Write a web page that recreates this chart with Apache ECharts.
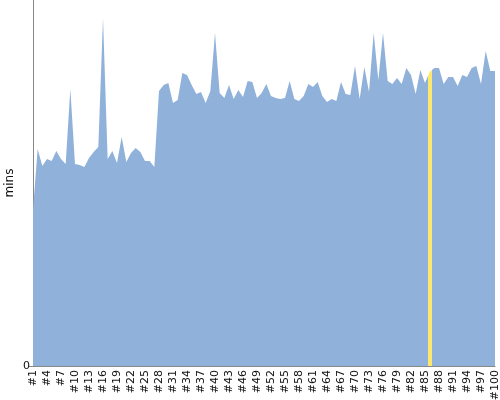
<!DOCTYPE html>
<html>
<head>
<meta charset="utf-8">
<script src="https://cdn.jsdelivr.net/npm/echarts@6/dist/echarts.min.js"></script>
<style>html,body{margin:0;padding:0;background:#fff}#c{width:500px;height:400px}</style>
</head>
<body>
<div id="c"></div>
<script>
var categories = ['#1','#2','#3','#4','#5','#6','#7','#8','#9','#10','#11','#12','#13','#14','#15','#16','#17','#18','#19','#20',
'#21','#22','#23','#24','#25','#26','#27','#28','#29','#30','#31','#32','#33','#34','#35','#36','#37','#38','#39','#40',
'#41','#42','#43','#44','#45','#46','#47','#48','#49','#50','#51','#52','#53','#54','#55','#56','#57','#58','#59','#60',
'#61','#62','#63','#64','#65','#66','#67','#68','#69','#70','#71','#72','#73','#74','#75','#76','#77','#78','#79','#80',
'#81','#82','#83','#84','#85','#86','#87','#88','#89','#90','#91','#92','#93','#94','#95','#96','#97','#98','#99','#100'];
var minutes = [15.6,21.7,20.0,20.7,20.5,21.5,20.7,20.2,27.7,20.2,
20.1,19.9,20.8,21.4,21.9,34.8,20.7,21.5,20.3,22.9,
20.4,21.3,21.8,21.4,20.5,20.5,19.9,27.5,28.1,28.3,
26.3,26.6,29.3,29.1,28.1,27.2,27.4,26.3,27.5,33.3,
27.3,26.8,28.1,26.7,27.6,26.9,28.5,28.4,26.8,27.3,
28.2,27.0,26.8,26.7,26.8,28.5,26.7,26.5,27.0,28.2,
27.9,28.4,27.0,26.4,26.7,26.5,28.4,27.2,27.1,30.0,
26.7,29.9,27.4,33.3,28.6,33.3,28.5,28.2,28.8,28.2,
29.8,29.1,27.2,29.6,28.3,29.4,29.8,29.8,28.2,28.9,
28.9,28.0,29.1,28.9,29.8,30.0,28.2,31.5,29.5,29.5];
var highlightRange = [84.55, 85.4];
var yMax = 36.6;

// x position = index of the category; labels come from categories
var seriesData = categories.map(function(c, i){ return [i, minutes[i]]; });

var chart = echarts.init(document.getElementById('c'), null, {renderer:'canvas'});
chart.setOption({
  animation: false,
  textStyle: {fontFamily: 'DejaVu Sans'},
  grid: {left: 33, right: 5, top: 0, bottom: 34, containLabel: false, outerBoundsMode: 'none'},
  xAxis: {
    type: 'value',
    min: 0,
    max: categories.length - 1,
    interval: 3,
    axisLine: {show: true, onZero: false, lineStyle: {color: '#888', width: 1}},
    axisTick: {show: false},
    axisLabel: {
      rotate: 90, fontSize: 11, color: '#111', margin: 4, fontFamily: 'DejaVu Sans',
      showMinLabel: true, showMaxLabel: true, hideOverlap: false,
      formatter: function(v){ return categories[Math.round(v)] || ''; }
    },
    splitLine: {show: false}
  },
  yAxis: {
    type: 'value',
    min: 0,
    max: yMax,
    name: 'mins',
    nameLocation: 'middle',
    nameGap: 17,
    nameMoveOverlap: false,
    nameTextStyle: {fontSize: 12, color: '#111', fontFamily: 'DejaVu Sans'},
    axisLine: {show: true, lineStyle: {color: '#888', width: 1}},
    axisTick: {show: true, length: 4, lineStyle: {color: '#888'}, customValues: [0]},
    axisLabel: {fontSize: 11, color: '#111', margin: 3, customValues: [0]},
    splitLine: {show: false}
  },
  visualMap: {
    type: 'piecewise',
    show: false,
    dimension: 0,
    seriesIndex: 0,
    pieces: [{gt: highlightRange[0], lt: highlightRange[1], color: '#fde86f'}],
    outOfRange: {color: '#8fb1da'}
  },
  series: [{
    type: 'line',
    data: seriesData,
    symbol: 'none',
    lineStyle: {width: 0},
    areaStyle: {opacity: 1}
  }]
});
</script>
</body>
</html>
